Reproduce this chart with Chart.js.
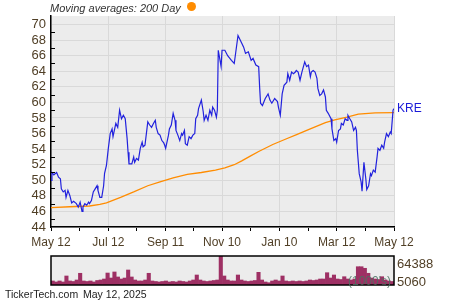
<!DOCTYPE html>
<html>
<head>
<meta charset="utf-8">
<script src="https://cdn.jsdelivr.net/npm/chart.js@4"></script>
<style>
body{margin:0;width:450px;height:300px;background:#fff;position:relative;overflow:hidden;font-family:"Liberation Sans",Arial,sans-serif;}
canvas{position:absolute;left:0;}
.t{position:absolute;white-space:nowrap;line-height:1;}
</style>
</head>
<body>
<canvas id="main" width="450" height="250" style="top:0"></canvas>
<canvas id="vol" width="450" height="40" style="top:250px"></canvas>
<div class="t" style="left:50px;top:3px;font-size:11px;font-style:italic;color:#333">Moving averages: 200 Day</div>
<div style="position:absolute;left:187px;top:2px;width:9px;height:9px;border-radius:50%;background:#ff8c00"></div>
<div class="t" style="left:397px;top:257px;font-size:13px;color:#503f26">64388</div>
<div class="t" style="left:397px;top:275px;font-size:13px;color:#503f26">5060</div>
<div class="t" style="left:348px;top:275px;font-size:12px;color:#4a7262;opacity:.85">(1000's)</div>
<div class="t" style="left:5px;top:289px;font-size:10.5px;color:#222">TickerTech.com</div>
<div class="t" style="left:83px;top:289px;font-size:10.5px;color:#222">May 12, 2025</div>
<script>
// days counted from May 12, 2024
const priceDay = [0,1,3,6,8,10,11,13,15,16,
  18,20,22,24,27,29,31,33,34,36,
  38,40,41,43,45,47,49,50,52,54,
  56,57,59,61,63,65,66,69,71,73,
  75,77,79,81,82,83,86,88,89,91,
  93,95,97,98,100,103,105,107,109,111,
  112,114,116,118,120,121,122,125,126,128,
  130,132,133,135,137,139,140,142,143,145,
  147,149,151,153,154,156,157,160,162,163,
  165,167,169,171,172,174,176,177,178,181,
  182,185,188,192,195,199,203,205,207,210,
  213,215,218,221,222,223,225,228,231,233,
  235,238,241,242,244,246,248,251,252,254,
  256,258,260,261,263,265,267,270,272,274,
  276,277,279,281,283,284,286,288,290,292,
  293,295,298,299,301,303,304,306,308,309,
  311,313,315,316,318,320,322,324,325,326,
  328,330,331,333,335,336,338,340,341,343,
  345,347,348,350,352,354,355,357,359,361,
  362,364,365];
const closes = [50.0,51.0,50.7,51.0,50.4,50.2,48.9,48.5,48.7,47.8,
  48.7,48.05,47.1,47.3,47.0,46.55,47.2,46.0,46.55,47.0,
  46.8,47.2,47.0,47.4,48.5,48.9,49.3,48.7,47.8,47.8,
  49.3,50.9,51.9,54.1,56.0,56.6,55.6,57.3,56.8,59.0,
  57.9,58.35,57.9,55.35,53.6,52.1,52.1,53.0,52.3,52.8,
  52.6,54.1,54.9,54.3,54.5,57.5,57.1,56.8,57.3,57.7,
  56.8,56.0,55.8,55.1,54.8,54.5,54.1,55.8,56.6,57.1,
  58.6,57.7,56.4,55.8,55.1,56.0,55.8,56.4,54.7,54.5,
  55.6,55.35,55.8,56.0,57.9,58.35,59.2,60.3,58.8,57.7,
  58.35,57.7,59.0,58.35,59.4,59.0,58.1,59.0,66.7,64.6,
  66.7,66.7,66.0,65.4,65.0,68.6,67.6,67.1,66.3,66.5,
  65.4,65.65,64.8,64.6,62.0,59.9,59.6,60.5,61.1,60.3,
  59.9,60.5,60.1,59.4,58.35,61.1,62.2,62.6,63.7,62.85,
  63.9,63.7,63.9,64.1,63.9,62.85,63.9,65.2,64.6,64.8,
  63.3,63.9,64.1,63.9,63.1,61.8,60.9,61.1,61.6,60.7,
  59.0,58.6,57.9,56.6,55.1,55.35,54.9,56.4,56.6,57.3,
  57.1,57.9,57.7,58.35,57.9,57.5,56.4,56.8,56.4,53.85,
  50.85,49.8,48.6,52.3,50.2,48.8,49.3,50.85,50.6,51.3,
  51.05,53.0,54.1,53.85,54.5,54.1,54.9,56.0,55.6,56.2,
  56.0,59.0,59.2];

const maDay = [0,20,41,52,59,74,88,103,116,130,145,160,175,185,195,203,212,221,236,250,262,274,292,302,315,327,345,365];
const ma200 = [46.5,46.6,46.7,46.9,47.1,47.8,48.5,49.3,49.8,50.3,50.75,51.0,51.3,51.6,52.0,52.5,53.1,53.7,54.6,55.3,55.9,56.5,57.4,57.75,58.1,58.5,58.65,58.7];

// volume in 1000's, roughly every 3-4 days
const volume = [8900,6700,8900,6700,20000,8900,7800,11100,26000,8900,
  7800,8900,6700,10000,11100,13300,26600,15500,28900,17800,
  13300,15500,33300,17800,11100,8900,8900,11100,26000,8900,
  7800,6700,7800,8900,6700,7800,6700,8900,7800,6700,
  8900,11100,22200,11100,8900,7800,8900,10000,11100,64388,
  20000,11100,8900,8900,22200,11100,8900,7800,8900,10000,
  28200,11100,6700,5060,8900,11100,8900,20000,8900,7800,
  8900,7800,8900,7800,8900,11100,10000,11100,13300,13300,
  27300,15500,22200,13300,12200,18400,13300,11100,13300,40600,
  40600,37100,26000,15500,13300,12200,18400,11100,8900,7800];
const volMax = 64388;

const xTickDays = [0,61,122,182,243,304,365];
const xTickLabels = ['May 12','Jul 12','Sep 11','Nov 10','Jan 10','Mar 12','May 12'];
const yTicks = [44,46,48,50,52,54,56,58,60,62,64,66,68,70];

const labelColor = '#503f26';
const gridColor = '#d9d9d9';

const plotBg = {
  id:'plotBg',
  beforeDraw(chart){
    const a = chart.chartArea, c = chart.ctx;
    c.save(); c.fillStyle = '#ececec';
    c.fillRect(a.left, a.top, a.right-a.left, a.bottom-a.top);
    c.restore();
  }
};

const minorY = {
  id:'minorY',
  afterDraw(chart){
    const a = chart.chartArea, c = chart.ctx, y = chart.scales.y;
    c.save(); c.strokeStyle = '#000'; c.lineWidth = 1;
    for(let v = 45; v < 71; v += 2){
      const py = Math.round(y.getPixelForValue(v)) + 0.5;
      c.beginPath(); c.moveTo(a.left, py); c.lineTo(a.left+4, py); c.stroke();
    }
    c.restore();
  }
};

const endLabel = {
  id:'endLabel',
  afterDatasetsDraw(chart){
    const pts = chart.getDatasetMeta(0).data;
    const last = pts[pts.length-1];
    const c = chart.ctx;
    c.save();
    c.font = '12px "Liberation Sans", Arial, sans-serif';
    c.fillStyle = '#1a1ad8';
    c.textBaseline = 'middle';
    c.fillText('KRE', chart.chartArea.right+3, last.y);
    c.restore();
  }
};

const allXTicks = [];
xTickDays.forEach((d,i)=>{
  allXTicks.push(d);
  if(i < xTickDays.length-1) allXTicks.push((d + xTickDays[i+1])/2);
});

new Chart(document.getElementById('main'), {
  type:'line',
  data:{
    datasets:[
      {label:'KRE', data: priceDay.map((d,i)=>({x:d, y:closes[i]})),
       borderColor:'#2222dd', borderWidth:1.2, pointRadius:0, tension:0},
      {label:'200 Day', data: maDay.map((d,i)=>({x:d, y:ma200[i]})),
       borderColor:'#ff8c00', borderWidth:1.3, pointRadius:0, tension:0}
    ]
  },
  options:{
    responsive:false, animation:false, devicePixelRatio:1,
    layout:{padding:{top:16, right:56, left:0, bottom:0}},
    plugins:{legend:{display:false}, tooltip:{enabled:false}},
    scales:{
      x:{
        type:'linear', min:0, max:365,
        afterBuildTicks: s => { s.ticks = allXTicks.map(v=>({value:v})); },
        afterFit: s => { s.height = 23; },
        ticks:{
          autoSkip:false, maxRotation:0, padding:4, color:labelColor,
          font:{size:12, family:'"Liberation Sans", Arial, sans-serif'},
          callback: v => { const k = xTickDays.indexOf(v); return k >= 0 ? xTickLabels[k] : ''; }
        },
        grid:{
          color: ctx => (ctx.tick && xTickDays.includes(ctx.tick.value)) ? gridColor : 'rgba(0,0,0,0)',
          tickColor:'#000', tickLength:4, drawTicks:true
        },
        border:{color:'#000', width:1.5}
      },
      y:{
        min:44, max:71.1,
        afterBuildTicks: s => { s.ticks = yTicks.map(v=>({value:v})); },
        afterFit: s => { s.width = 51; },
        ticks:{
          autoSkip:false, padding:5, color:labelColor,
          font:{size:13, family:'"Liberation Sans", Arial, sans-serif'}
        },
        grid:{color:gridColor, drawTicks:false},
        border:{color:'#000', width:1.5}
      }
    }
  },
  plugins:[plotBg, minorY, endLabel]
});

const volFrame = {
  id:'volFrame',
  beforeDraw(chart){
    const a = chart.chartArea, c = chart.ctx;
    c.save(); c.fillStyle = '#ececec';
    c.fillRect(a.left, a.top, a.right-a.left, a.bottom-a.top);
    c.restore();
  },
  afterDraw(chart){
    const a = chart.chartArea, c = chart.ctx;
    c.save(); c.strokeStyle = '#000'; c.lineWidth = 1.5;
    c.strokeRect(a.left, a.top, a.right-a.left, a.bottom-a.top);
    c.restore();
  }
};

new Chart(document.getElementById('vol'), {
  type:'bar',
  data:{
    labels: volume.map((_,i)=>i),
    datasets:[{data:volume, backgroundColor:'#9e3064', borderWidth:0,
      barPercentage:1, categoryPercentage:1}]
  },
  options:{
    responsive:false, animation:false, devicePixelRatio:1,
    layout:{padding:{left:51, right:56, top:6, bottom:5}},
    plugins:{legend:{display:false}, tooltip:{enabled:false}},
    scales:{x:{display:false}, y:{display:false, min:0, max:volMax}}
  },
  plugins:[volFrame]
});
</script>
</body>
</html>
